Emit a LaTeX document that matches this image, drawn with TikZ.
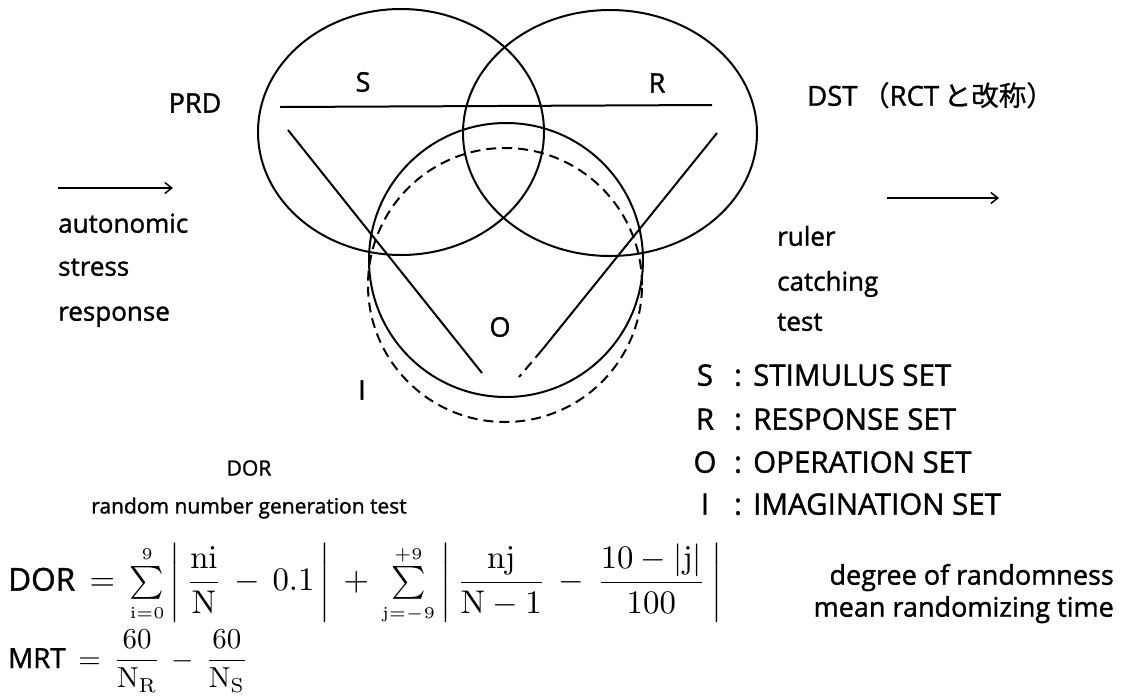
\documentclass[tikz,border=0pt]{standalone}
\usepackage[no-math]{fontspec}
\setmainfont{Open Sans}[FakeBold=1.3]
\newfontfamily\jpfont{Noto Sans CJK JP}[FakeBold=0.8]
\usetikzlibrary{arrows.meta}
\newcommand{\wsp}{\mskip 3mu}
\begin{document}
\begin{tikzpicture}[x=1pt,y=-1pt,
  setline/.style={line width=2pt, black},
  dashline/.style={line width=2pt, black, dash pattern=on 10pt off 6pt},
  arr/.style={line width=1.5pt, -{Straight Barb[length=7pt,width=11pt,line width=1.5pt]}},
  setlbl/.style={inner sep=0pt, font=\fontsize{27}{32}\selectfont},
  side/.style={inner sep=0pt, anchor=mid west, font=\fontsize{26}{31}\selectfont},
  leg/.style={inner sep=0pt, anchor=mid west, font=\fontsize{29.5}{34}\selectfont},
  legkey/.style={inner sep=0pt, anchor=mid, font=\fontsize{29.5}{34}\selectfont}]
\useasboundingbox (0,0) rectangle (1125,697);
\fill[white] (0,0) rectangle (1125,697);

% sets
\draw[setline] (401,132) ellipse [x radius=143pt, y radius=123pt];
\draw[setline] (610,133) ellipse [x radius=147pt, y radius=123pt];
\draw[setline] (506,260) circle [radius=137pt];
\draw[dashline] (505,285) circle [radius=137pt];

% lines
\coordinate (h1) at (280,107);
\coordinate (h2) at (712,105);
\coordinate (l1) at (288,130);
\coordinate (l2) at (482,373);
\coordinate (r1) at (717,133);
\coordinate (r2) at (542,350);
\coordinate (r3) at (519,377);
\draw[setline] (h1) -- (h2);
\draw[setline] (l1) -- (l2);
\draw[setline] (r1) -- (r2);
\draw[dashline] (r2) -- (r3);

% set labels
\node[setlbl] (S) at (363,82) {S};
\node[setlbl] (R) at (657,83) {R};
\node[setlbl] (O) at (500,327) {O};
\node[setlbl] (I) at (362,390) {I};

% left side
\node[setlbl] (prd) at (195,103) {PRD};
\coordinate (la1) at (58,188);
\coordinate (la2) at (173,188);
\draw[arr] (la1) -- (la2);
\node[side] (auto) at (58,230) {autonomic};
\node[side] (stress) at (58,273) {stress};
\node[side] (resp) at (58,318) {response};

% right side
\node[side, font=\fontsize{27.5}{32}\selectfont] (dst) at (807,103) {DST\,{\jpfont（}RCT\,{\jpfont と改称）}};
\coordinate (ra1) at (887,198);
\coordinate (ra2) at (999,198);
\draw[arr] (ra1) -- (ra2);
\node[side] (ruler) at (777,243) {ruler};
\node[side] (catch) at (777,288) {catching};
\node[side] (test) at (777,328) {test};

% legend
\node[legkey] (kS) at (705,383) {S};
\node[legkey] (kR) at (705,427) {R};
\node[legkey] (kO) at (705,470) {O};
\node[legkey] (kI) at (705,512) {I};
\node[legkey] (cS) at (738,383) {:};
\node[legkey] (cR) at (738,427) {:};
\node[legkey] (cO) at (738,470) {:};
\node[legkey] (cI) at (738,512) {:};
\node[leg] (tS) at (753,383) {STIMULUS SET};
\node[leg] (tR) at (753,427) {RESPONSE SET};
\node[leg] (tO) at (753,470) {OPERATION SET};
\node[leg] (tI) at (753,512) {IMAGINATION SET};

% DOR labels
\node[inner sep=0pt, font=\fontsize{21}{26}\selectfont] (dor) at (249,468) {DOR};
\node[inner sep=0pt, font=\fontsize{21}{26}\selectfont] (rng) at (249,508) {random number generation test};

% formulas
\node[inner sep=0pt, anchor=west] (fdor) at (8,584) {\resizebox{714pt}{!}{$\displaystyle
  \mbox{\fontsize{9.6}{11}\selectfont DOR} \wsp=\wsp \mathop{\textstyle\sum}\limits_{\scriptscriptstyle \mathrm{i}=0}^{\scriptscriptstyle 9}\left|\,\frac{\mathrm{ni}}{\mathrm{N}}\wsp-\wsp 0.1\,\right|
  \wsp+\wsp \mathop{\textstyle\sum}\limits_{\scriptscriptstyle \mathrm{j}=-9}^{\scriptscriptstyle +9}\left|\,\frac{\mathrm{nj}}{\mathrm{N}-1}\wsp-\wsp\frac{10-|\mathrm{j}|}{100}\,\right|$}};
\node[inner sep=0pt, anchor=west] (fmrt) at (8,661) {\resizebox{240pt}{!}{$\displaystyle
  \mbox{\fontsize{9.6}{11}\selectfont MRT} \wsp=\wsp \frac{60}{\mathrm{N}_{\mathrm{R}}}\wsp-\wsp\frac{60}{\mathrm{N}_{\mathrm{S}}}$}};

\node[inner sep=0pt, anchor=mid east, font=\fontsize{27}{32}\selectfont] (deg) at (1114,582) {degree of randomness};
\node[inner sep=0pt, anchor=mid east, font=\fontsize{27}{32}\selectfont] (mrt) at (1114,614) {mean randomizing time};
\end{tikzpicture}
\end{document}
